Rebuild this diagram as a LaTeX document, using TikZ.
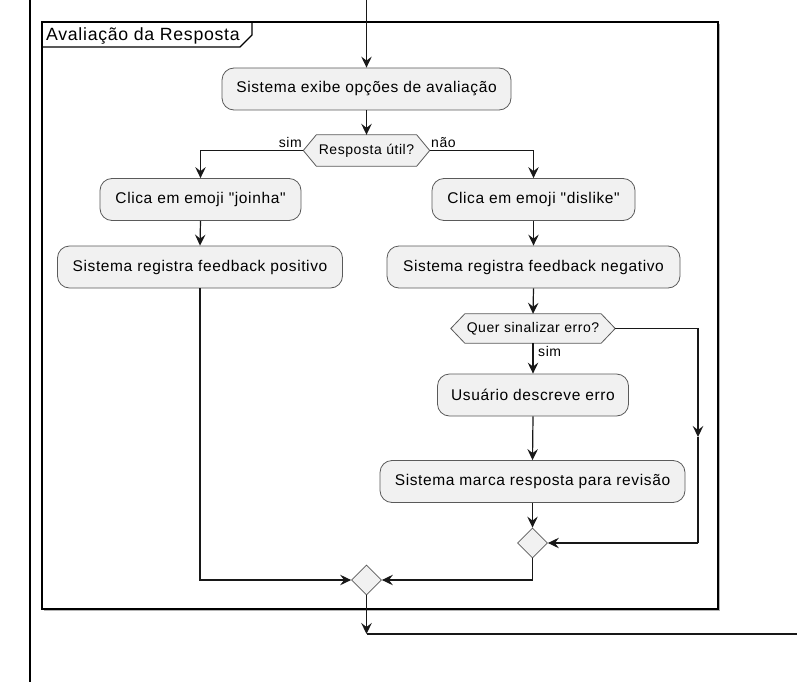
\documentclass[tikz,border=0pt]{standalone}
\usepackage{fontspec}
\setmainfont{Liberation Sans}[LetterSpace=4, Ligatures=TeXOff]
\usetikzlibrary{arrows.meta,shapes.geometric,calc,backgrounds}
\definecolor{boxfill}{HTML}{F1F1F1}
\definecolor{boxline}{HTML}{5A5A5A}
\definecolor{ink}{HTML}{181818}
\definecolor{framegray}{HTML}{B4B4B4}

% hexagonal decision outline around a named node, indented by #2
\newcommand\hexoutline[2]{%
  \begin{pgfonlayer}{background}
    \draw[hexline] (#1.west) -- ($(#1.north west)+(#2,0)$) -- ($(#1.north east)+(-#2,0)$)
      -- (#1.east) -- ($(#1.south east)+(-#2,0)$) -- ($(#1.south west)+(#2,0)$) -- cycle;
  \end{pgfonlayer}}

\begin{document}
\begin{tikzpicture}[x=1pt,y=-1pt,
  act/.style={draw=boxline, fill=boxfill, line width=0.8pt, rounded corners=12pt,
    minimum height=42pt, inner sep=0pt, font=\fontsize{15.5}{18}\selectfont},
  hexlabel/.style={inner sep=0pt, font=\fontsize{14}{16}\selectfont},
  hexline/.style={draw=boxline, fill=boxfill, line width=0.8pt},
  merge/.style={diamond, draw=boxline, fill=boxfill, line width=0.8pt,
    minimum width=30pt, minimum height=30pt, inner sep=0pt},
  flow/.style={draw=ink, line width=1.2pt, -{Stealth[length=11pt,width=10.5pt,inset=4pt]}},
  wire/.style={draw=ink, line width=1.2pt},
  guard/.style={inner sep=0pt, font=\fontsize{14}{16}\selectfont},
]
\begin{pgfonlayer}{background}
  \fill[white] (0,0) rectangle (797,682);
\end{pgfonlayer}
\useasboundingbox (0,0) rectangle (797,682);

% swimlane border on the left
\coordinate (laneTop) at (30,0);
\coordinate (laneBot) at (30,682);
\draw[black, line width=1.8pt] (laneTop) -- (laneBot);

% group frame with its tab
\draw[framegray, line width=1.2pt] (44,610.5) -- (719.5,610.5) -- (719.5,24);
\draw[black, line width=1.8pt] (42,22) rectangle (718,609);
\draw[black, line width=1.4pt] (42,47) -- (240,47) -- (252,35) -- (252,22);
\node[anchor=base west, inner sep=0pt, font=\fontsize{17.7}{20}\selectfont] (title) at (46,41) {Avaliação da Resposta};

% activities
\node[act, minimum width=289pt] (b1) at (366.5,89) {Sistema exibe opções de avaliação};
\node[hexlabel, minimum width=126pt, minimum height=31pt] (h1) at (366.5,150.5) {Resposta útil?};
\hexoutline{h1}{13}
\node[act, minimum width=201pt] (b2) at (200.5,199.5) {Clica em emoji "joinha"};
\node[act, minimum width=285pt] (b3) at (200,267) {Sistema registra feedback positivo};
\node[act, minimum width=203pt] (b4) at (533.5,199.5) {Clica em emoji "dislike"};
\node[act, minimum width=293pt] (b5) at (533.5,267) {Sistema registra feedback negativo};
\node[hexlabel, minimum width=164pt, minimum height=29pt] (h2) at (533,328.5) {Quer sinalizar erro?};
\hexoutline{h2}{14}
\node[act, minimum width=191pt] (b6) at (533,395) {Usuário descreve erro};
\node[act, minimum width=305pt] (b7) at (532.5,481.5) {Sistema marca resposta para revisão};
\node[merge] (d1) at (532.5,543) {};
\node[merge] (d2) at (366.5,580) {};

% guard labels
\node[guard, anchor=south east] (gSim) at (302,148) {sim};
\node[guard, anchor=south west] (gNao) at (431,148) {não};
\node[guard, anchor=west] (gSim2) at (538,351) {sim};

% connectors
\coordinate (entry) at (366.5,0);
\coordinate (loopTop) at (698,328.5);
\coordinate (loopMid) at (698,437);
\coordinate (loopBot) at (698,543);
\coordinate (exitCorner) at (366.5,634);
\coordinate (exitEnd) at (797,634);

\draw[flow] (entry) -- (b1.north);
\draw[flow] (b1.south) -- (h1.north);
\draw[flow] (h1.west) -| (b2.north);
\draw[flow] (h1.east) -| (b4.north);
\draw[flow] (b2.south) -- (b3.north);
\draw[flow] (b4.south) -- (b5.north);
\draw[flow] (b5.south) -- (h2.north);
\draw[flow] (h2.south) -- (b6.north);
\draw[flow] (b6.south) -- (b7.north);
\draw[flow] (b7.south) -- (d1.north);
\draw[flow] (h2.east) -- (loopTop) -- (loopMid);
\draw[wire] (loopMid) -- (loopBot);
\draw[flow] (loopBot) -- (d1.east);
\draw[flow] (d1.south) |- (d2.east);
\draw[flow] (b3.south) |- (d2.west);
\draw[flow] (d2.south) -- (exitCorner);
\draw[wire] (exitCorner) -- (exitEnd);
\end{tikzpicture}
\end{document}
